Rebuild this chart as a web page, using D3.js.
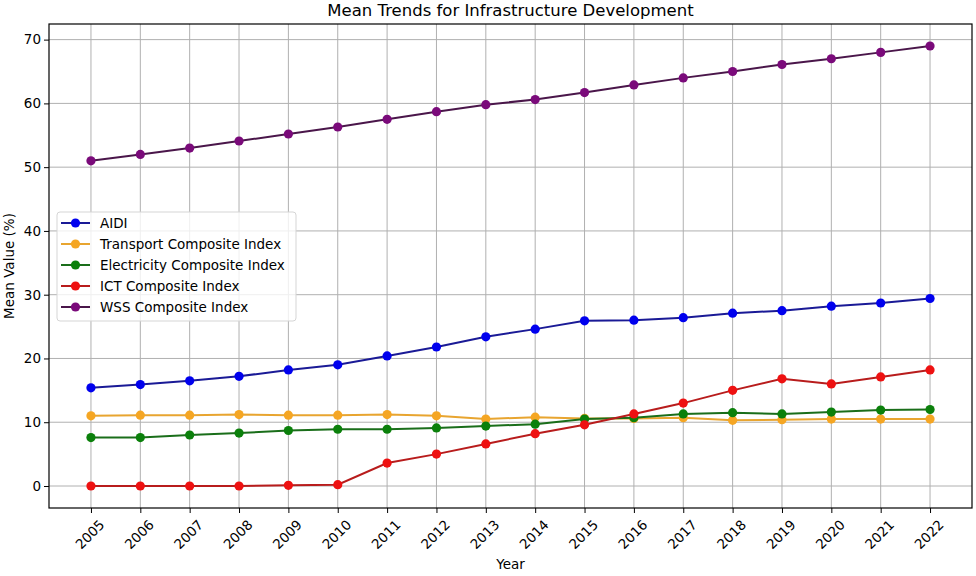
<!DOCTYPE html>
<html>
<head>
<meta charset="utf-8">
<script src="https://cdnjs.cloudflare.com/ajax/libs/d3/7.8.5/d3.min.js"></script>
<style>
  body { margin: 0; background: #fff; }
  text { font-family: "DejaVu Sans", sans-serif; fill: #000; }
</style>
</head>
<body>
<script>
var years = [2005, 2006, 2007, 2008, 2009, 2010, 2011, 2012, 2013, 2014, 2015, 2016, 2017, 2018, 2019, 2020, 2021, 2022];

var aidi        = [15.4, 15.9, 16.5, 17.2, 18.2, 19.0, 20.4, 21.8, 23.4, 24.6, 25.9, 26.0, 26.4, 27.1, 27.5, 28.2, 28.7, 29.4];
var transport   = [11.0, 11.1, 11.1, 11.2, 11.1, 11.1, 11.2, 11.0, 10.5, 10.8, 10.6, 10.6, 10.7, 10.3, 10.4, 10.5, 10.5, 10.5];
var electricity = [7.6, 7.6, 8.0, 8.3, 8.7, 8.9, 8.9, 9.1, 9.4, 9.7, 10.5, 10.7, 11.3, 11.5, 11.3, 11.6, 11.9, 12.0];
var ict         = [0.0, 0.0, 0.0, 0.0, 0.1, 0.2, 3.6, 5.0, 6.6, 8.2, 9.6, 11.3, 13.0, 15.0, 16.8, 16.0, 17.1, 18.2];
var wss         = [51.0, 52.0, 53.0, 54.1, 55.2, 56.3, 57.5, 58.7, 59.8, 60.6, 61.7, 62.9, 64.0, 65.0, 66.1, 67.0, 68.0, 69.0];

var seriesNames = ["AIDI", "Transport Composite Index", "Electricity Composite Index", "ICT Composite Index", "WSS Composite Index"];
var markerColors = ["#0000ee", "#f5a623", "#0b800b", "#ee1111", "#7a0a7a"];
var lineColors = ["#1a1a96", "#e8a530", "#1a6e1a", "#b81c1c", "#4a164a"];
var yTicks = [0, 10, 20, 30, 40, 50, 60, 70];

var series = [aidi, transport, electricity, ict, wss].map(function(v, i) {
  return {name: seriesNames[i], values: v, marker: markerColors[i], line: lineColors[i]};
});

var margin = {top: 24, right: 4, bottom: 68, left: 49},
    width = 976 - margin.left - margin.right,
    height = 576 - margin.top - margin.bottom;

var svg = d3.select("body").append("svg")
    .attr("width", 976)
    .attr("height", 576);

var g = svg.append("g")
    .attr("transform", "translate(" + margin.left + "," + margin.top + ")");

var x = d3.scaleLinear()
    .domain([2005 - 17 * 0.05, 2022 + 17 * 0.05])
    .range([0, width]);

var y = d3.scaleLinear()
    .domain([-3.45, 72.45])
    .range([height, 0]);

// grid
g.append("g")
    .selectAll("line")
    .data(years)
    .join("line")
    .attr("x1", d => x(d)).attr("x2", d => x(d))
    .attr("y1", 0).attr("y2", height)
    .attr("stroke", "#b0b0b0").attr("stroke-width", 1);

g.append("g")
    .selectAll("line")
    .data(yTicks)
    .join("line")
    .attr("y1", d => y(d)).attr("y2", d => y(d))
    .attr("x1", 0).attr("x2", width)
    .attr("stroke", "#b0b0b0").attr("stroke-width", 1);

// x axis
var xAxis = g.append("g")
    .attr("transform", "translate(0," + height + ")")
    .call(d3.axisBottom(x).tickValues(years).tickFormat(d3.format("d")).tickSize(5).tickSizeOuter(0));
xAxis.select(".domain").remove();
xAxis.selectAll("line").attr("stroke", "#000");
xAxis.selectAll("text")
    .attr("y", 0).attr("x", 0).attr("dy", 0)
    .attr("transform", "translate(-1,27) rotate(-45)")
    .attr("dominant-baseline", "middle")
    .style("text-anchor", "middle")
    .style("font-size", "13.5px")
    .style("font-family", "DejaVu Sans");

// y axis
var yAxis = g.append("g")
    .call(d3.axisLeft(y).tickValues(yTicks).tickSize(5).tickSizeOuter(0));
yAxis.select(".domain").remove();
yAxis.selectAll("line").attr("stroke", "#000");
yAxis.selectAll("text")
    .attr("x", -8)
    .style("font-size", "13.5px")
    .style("font-family", "DejaVu Sans");

// frame
g.append("rect")
    .attr("width", width).attr("height", height)
    .attr("fill", "none").attr("stroke", "#000").attr("stroke-width", 1.2);

// lines and markers
var line = d3.line()
    .x((d, i) => x(years[i]))
    .y(d => y(d));

series.forEach(function(s) {
  g.append("path")
      .datum(s.values)
      .attr("fill", "none")
      .attr("stroke", s.line)
      .attr("stroke-width", 2)
      .attr("d", line);
  g.append("g")
    .selectAll("circle")
    .data(s.values)
    .join("circle")
      .attr("cx", (d, i) => x(years[i]))
      .attr("cy", d => y(d))
      .attr("r", 4.6)
      .attr("fill", s.marker);
});

// legend
var legend = g.append("g")
    .attr("transform", "translate(8,188)");
legend.append("rect")
    .attr("width", 239).attr("height", 109)
    .attr("rx", 3)
    .attr("fill", "#fff").attr("fill-opacity", 0.8)
    .attr("stroke", "#d5d5d5");
series.forEach(function(s, i) {
  var row = legend.append("g").attr("transform", "translate(0," + (11 + i * 21) + ")");
  row.append("line")
      .attr("x1", 4).attr("x2", 33)
      .attr("stroke", s.line).attr("stroke-width", 2);
  row.append("circle")
      .attr("cx", 18.5).attr("r", 4.6).attr("fill", s.marker);
  row.append("text")
      .attr("x", 43).attr("dy", "0.35em")
      .style("font-size", "13.5px")
      .text(s.name);
});

// title and labels
svg.append("text")
    .attr("x", margin.left + width / 2)
    .attr("y", 16)
    .style("text-anchor", "middle")
    .style("font-size", "16.5px")
    .text("Mean Trends for Infrastructure Development");

svg.append("text")
    .attr("x", margin.left + width / 2)
    .attr("y", 569)
    .style("text-anchor", "middle")
    .style("font-size", "13.5px")
    .text("Year");

svg.append("text")
    .attr("transform", "rotate(-90)")
    .attr("x", -(margin.top + height / 2))
    .attr("y", 14)
    .style("text-anchor", "middle")
    .style("font-size", "13.5px")
    .text("Mean Value (%)");
</script>
</body>
</html>
